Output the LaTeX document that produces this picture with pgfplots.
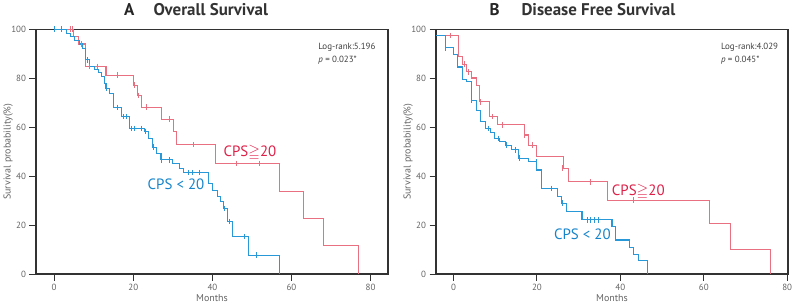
\documentclass[border=0pt]{standalone}
\usepackage{amssymb}
\usepackage{fontspec}
\setmainfont{PT Sans}
\usepackage{pgfplots}
\pgfplotsset{compat=1.18}

\definecolor{kmred}{RGB}{232,112,128}
\definecolor{kmredtxt}{RGB}{222,32,72}
\definecolor{kmblue}{RGB}{40,152,216}
\definecolor{kmbluetxt}{RGB}{22,132,202}
\definecolor{axisgray}{RGB}{50,50,50}
\definecolor{labelgray}{RGB}{100,100,100}

\pgfplotsset{
  km/.style={
    scale only axis,
    width=352bp, height=244.7bp,
    ymin=0, ymax=100,
    ytick={0,20,...,100},
    xtick={0,20,...,80},
    tick align=outside,
    tick pos=left,
    major tick length=6.5bp,
    axis line style={draw=axisgray, line width=1.2bp},
    tick style={draw=axisgray, line width=0.9bp},
    /pgf/number format/assume math mode=true,
    ticklabel style={font=\fontsize{9}{10}\selectfont, text=labelgray},
    xlabel={Months},
    ylabel={Survival probability(\%)},
    label style={font=\fontsize{10}{11}\selectfont, text=labelgray},
    xlabel style={at={(axis description cs:0.5,-0.1)}, anchor=center},
    ylabel style={at={(axis description cs:-0.079,0.5)}, anchor=center},
  },
  curve/.style={const plot, no marks, line width=1.05bp},
  censor/.style={only marks, mark=|, mark size=2.8bp, mark options={line width=0.9bp}},
}

\begin{document}
\begin{tikzpicture}
\useasboundingbox (0bp,0bp) rectangle (793bp,305bp);

% Panel titles
\node[anchor=base west, font=\fontsize{17}{20}\selectfont\bfseries, text=black!85] at (120.5bp,289.5bp) {A};
\node[anchor=base west, font=\fontsize{17}{20}\selectfont\bfseries, text=black!80] at (150bp,289.5bp) {Overall Survival};
\node[anchor=base west, font=\fontsize{17}{20}\selectfont\bfseries, text=black!85] at (486bp,289.5bp) {B};
\node[anchor=base west, font=\fontsize{17}{20}\selectfont\bfseries, text=black!80] at (518bp,289.5bp) {Disease Free Survival};

% ---------------- Overall survival ----------------
\begin{axis}[km, at={(36bp,31bp)}, anchor=south west, xmin=-4.6, xmax=84.4]
\addplot[curve, kmred] coordinates {
 (0,100) (5.0,97.0) (6.1,94.0) (8.0,84.8) (13.1,81.3) (20.0,77.2)
 (21.0,73.0) (22.1,68.2) (27.1,63.3) (30.1,58.2) (30.9,52.9)
 (40.9,45.2) (57.0,33.9) (63.1,22.6) (68.1,11.6) (76.9,0)
};
\addplot[censor, kmred] coordinates {
 (4.0,100) (4.7,100) (6.9,94.0) (9.0,84.8) (10.9,84.8) (16.0,81.3)
 (20.3,77.2) (21.3,73.0) (23.2,68.2) (29.1,63.3) (35.2,52.9)
 (46.1,45.2) (52.0,45.2)
};
\addplot[curve, kmblue] coordinates {
 (0,100) (3.1,98.4) (4.1,97.0) (5.2,95.6) (6.3,94.0) (7.2,92.2)
 (7.8,87.5) (9.0,84.7) (10.1,83.4) (11.1,82.3) (12.0,80.9) (12.8,77.9)
 (13.1,75.9) (14.1,73.6) (14.9,68.1) (17.0,64.3) (19.0,59.5) (22.9,58.2)
 (23.8,55.4) (24.9,51.8) (25.9,49.3) (27.0,46.6) (29.9,45.0) (31.8,43.2)
 (32.6,41.4) (38.9,37.1) (40.1,34.3) (41.2,31.6) (42.1,29.5) (42.9,26.8)
 (43.7,21.4) (45.0,15.3) (49.2,7.7) (56.9,0)
};
\addplot[censor, kmblue] coordinates {
 (0,100) (1.9,100) (8.3,87.5) (13.2,75.9) (15.9,68.1) (17.6,64.3)
 (18.3,64.3) (19.6,59.5) (20.3,59.5) (22.1,59.5) (23.1,58.2) (25.1,51.8)
 (27.2,46.6) (29.2,46.6) (33.9,41.4) (35.0,41.4) (36.8,41.4) (43.0,26.8)
 (44.2,21.4) (48.0,15.3) (51.2,7.7)
};
\node[text=kmredtxt, font=\fontsize{15}{17}\selectfont] at (axis cs:49.5,49.6) {CPS$\geqq$20};
\node[text=kmbluetxt, font=\fontsize{15}{17}\selectfont] at (axis cs:30.8,36.6) {CPS < 20};
\node[anchor=base west, font=\fontsize{9}{10}\selectfont, text=black!75] at (axis cs:65.9,91.8) {Log-rank:5.196};
\node[anchor=base west, font=\fontsize{9}{10}\selectfont, text=black!75] at (axis cs:65.9,86.5) {\textit{p} = 0.023*};
\end{axis}

% ---------------- Disease free survival ----------------
\begin{axis}[km, at={(436bp,31bp)}, anchor=south west, xmin=-4.2, xmax=80.2]
\addplot[curve, kmred] coordinates {
 (-4.2,97.4) (1.2,88.7) (2.2,85.7) (3.2,82.6) (4.2,80.1) (5.4,77.1)
 (6.2,70.3) (8.6,64.3) (10.5,61.0) (17.0,56.8) (18.0,52.7) (20.0,48.0)
 (26.3,43.2) (27.5,37.7) (37.0,30.2) (61.3,20.5) (66.4,10.1) (75.9,0)
};
\addplot[censor, kmred] coordinates {
 (-0.8,97.4) (2.6,85.7) (3.6,82.6) (6.4,70.3) (9.4,64.3) (11.7,61.0)
 (17.0,56.8) (19.0,52.7) (26.2,43.2) (32.8,37.7) (43.2,30.2)
};
\addplot[curve, kmblue] coordinates {
 (-4.2,97.4) (-2.0,92.4) (0.0,89.8) (1.05,84.6) (2.2,79.6) (3.2,78.5)
 (4.25,71.0) (5.4,66.9) (6.4,62.3) (7.6,59.5) (8.8,57.7) (9.8,55.4)
 (11.0,54.1) (12.4,52.7) (14.0,50.7) (15.6,47.3) (18.0,45.9) (20.0,42.5)
 (21.2,35.0) (24.9,31.6) (26.0,28.9) (27.2,25.5) (30.8,22.1) (38.0,19.3)
 (38.9,13.9) (42.2,11.0) (43.2,8.0) (44.4,5.6) (46.4,0)
};
\addplot[censor, kmblue] coordinates {
 (-2.0,92.4) (4.3,71.0) (8.3,59.5) (10.8,55.4) (12.6,52.7) (14.8,50.7)
 (15.8,47.3) (19.8,45.9) (23.4,35.0) (26.2,28.9) (32.0,22.1) (32.9,22.1)
 (33.8,22.1) (34.7,22.1)
};
\node[text=kmredtxt, font=\fontsize{15}{17}\selectfont] at (axis cs:44.3,33.8) {CPS$\geqq$20};
\node[text=kmbluetxt, font=\fontsize{15}{17}\selectfont] at (axis cs:30.9,16.2) {CPS < 20};
\node[anchor=base west, font=\fontsize{9}{10}\selectfont, text=black!75] at (axis cs:63.3,91.8) {Log-rank:4.029};
\node[anchor=base west, font=\fontsize{9}{10}\selectfont, text=black!75] at (axis cs:63.3,86.5) {\textit{p} = 0.045*};
\end{axis}
\end{tikzpicture}
\end{document}
